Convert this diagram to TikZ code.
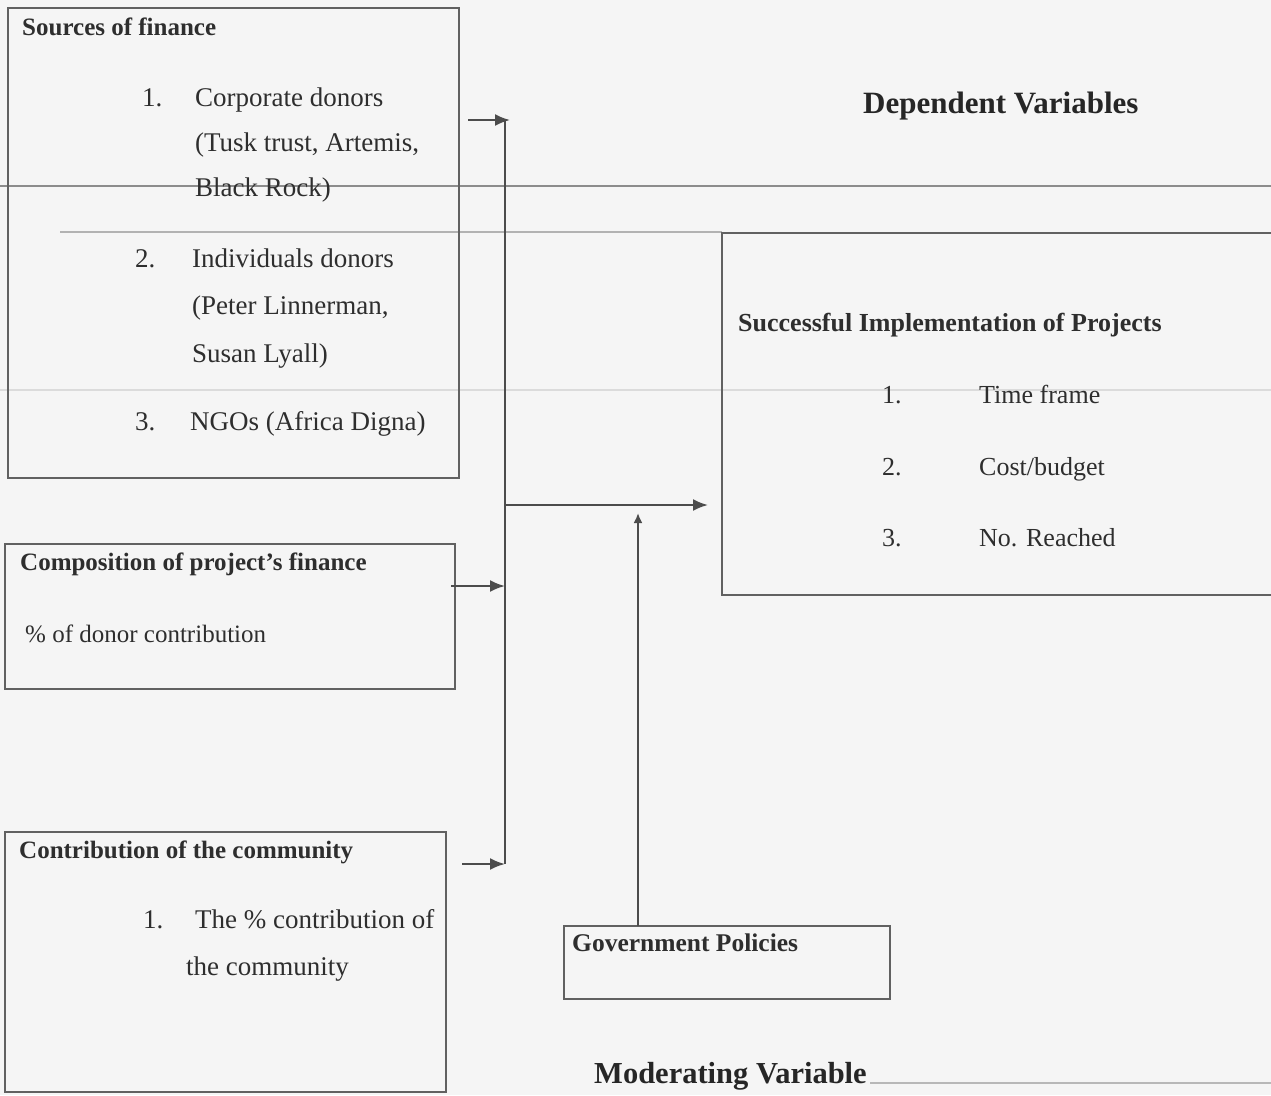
\documentclass[tikz,border=0pt]{standalone}
\usepackage{fontspec}
\setmainfont{Liberation Serif}
\usetikzlibrary{arrows.meta,calc}
\newcommand\myfs[1]{\fontsize{#1}{#1}\selectfont}
\begin{document}
\begin{tikzpicture}[x=1pt,y=-1pt,
  frame/.style={draw=black!62, line width=1.8pt, inner sep=0pt, outer sep=0pt, anchor=north west},
  txt/.style={anchor=mid west, inner sep=0pt, yshift=-6pt, text=black!82, font=\myfs{27}},
  hd/.style={anchor=mid west, inner sep=0pt, yshift=-6pt, text=black!82, font=\myfs{25}\bfseries},
  title/.style={anchor=mid west, inner sep=0pt, yshift=-8pt, text=black!85, font=\myfs{31}\bfseries},
  conn/.style={draw=black!70, line width=2.2pt},
  arr/.style={draw=black!70, line width=2.2pt, -{Latex[length=15pt,width=12pt]}},
  scan/.style={draw=black!45, line width=1.6pt}]
\fill[gray!8] (0,0) rectangle (1271,1095);
\useasboundingbox (0,0) rectangle (1271,1095);

% scan rules
\draw[scan] (0,186) -- (1271,186);
\draw[draw=black!30, line width=1.4pt] (60,232) -- (722,232);
\draw[draw=black!14, line width=2.5pt] (0,390) -- (1271,390);
\draw[draw=black!28, line width=1.5pt] (870,1083) -- (1271,1083);

% boxes
\node[frame, minimum width=451pt, minimum height=470pt] (src) at (8,8) {};
\node[frame, minimum width=450pt, minimum height=145pt] (comp) at (5,544) {};
\node[frame, minimum width=441pt, minimum height=260pt] (comm) at (5,832) {};
\node[frame, draw=none, minimum width=549pt, minimum height=362pt] (dep) at (722,233) {};
\draw[draw=black!62, line width=1.8pt] (dep.north east) -- (dep.north west) -- (dep.south west) -- (dep.south east);
\node[frame, minimum width=326pt, minimum height=73pt] (gov) at (564,926) {};

% sources of finance
\node[hd] (t1) at (22,27) {Sources of finance};
\node[txt] (n11) at (142,98) {1.};
\node[txt] (a1) at (195,98) {Corporate donors};
\node[txt] (a2) at (195,143) {(Tusk trust, Artemis,};
\node[txt] (a3) at (195,188) {Black Rock)};
\node[txt] (n12) at (135,259) {2.};
\node[txt] (b1t) at (192,259) {Individuals donors};
\node[txt] (b2t) at (192,306) {(Peter Linnerman,};
\node[txt] (b3t) at (192,354) {Susan Lyall)};
\node[txt] (n13) at (135,422) {3.};
\node[txt] (c1t) at (190,422) {NGOs (Africa Digna)};

% composition
\node[hd] (t2) at (20,562) {Composition of project’s finance};
\node[txt, font=\myfs{25}] (d1) at (25,634) {\% of donor contribution};

% community
\node[hd] (t3) at (19,850) {Contribution of the community};
\node[txt] (n31) at (143,920) {1.};
\node[txt] (e1) at (195,920) {The \% contribution of};
\node[txt] (e2) at (186,967) {the community};

% dependent
\node[title] (dv) at (863,103) {Dependent Variables};
\node[hd, font=\myfs{26}\bfseries] (t4) at (738,323) {Successful Implementation of Projects};
\node[txt, font=\myfs{26}] (n41) at (882,395) {1.};
\node[txt, font=\myfs{26}] (f1) at (979,395) {Time frame};
\node[txt, font=\myfs{26}] (n42) at (882,467) {2.};
\node[txt, font=\myfs{26}] (f2) at (979,467) {Cost/budget};
\node[txt, font=\myfs{26}] (n43) at (882,538) {3.};
\node[txt, font=\myfs{26}] (f3) at (979,538) {No. Reached};

% government
\node[hd, font=\myfs{25.5}\bfseries] (t5) at (572,943) {Government Policies};
\node[title, font=\myfs{30.5}\bfseries] (mv) at (594,1073) {Moderating Variable};

% connectors
\coordinate (bt) at (505,120);
\coordinate (bm) at (505,586);
\coordinate (bb) at (505,864);
\coordinate (hub) at (505,505);
\draw[conn] (bt) -- (bb);
\draw[arr] ($(src.east |- bt)+(9,0)$) -- ($(bt)+(5,0)$);
\draw[arr] ($(comp.east |- bm)+(-4,0)$) -- (bm);
\draw[arr] ($(comm.east |- bb)+(16,0)$) -- (bb);
\draw[arr] (hub) -- ($(dep.west |- hub)+(-14,0)$);
\coordinate (gtop) at ($(gov.north west)+(74,0)$);
\draw[conn, -{Latex[length=10pt,width=9pt]}] (gtop) -- ($(hub -| gtop)+(0,8)$);
\end{tikzpicture}
\end{document}
